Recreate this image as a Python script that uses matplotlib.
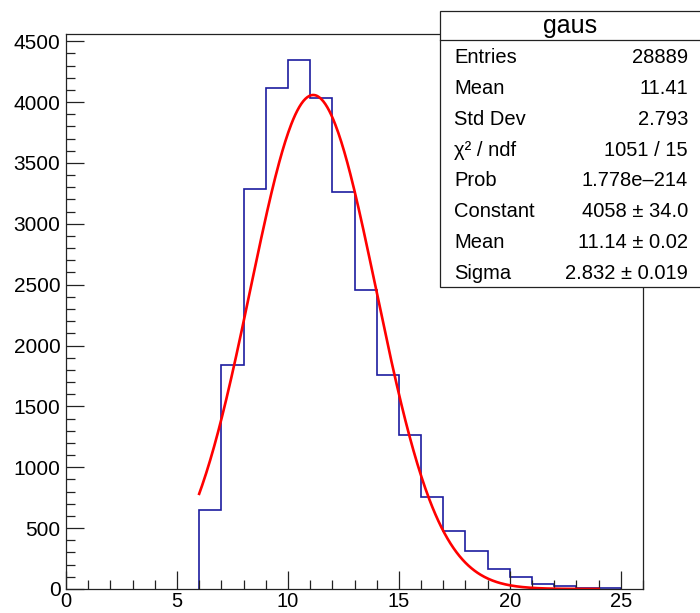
import numpy as np
import matplotlib
matplotlib.use('Agg')
import matplotlib.pyplot as plt
from matplotlib.patches import Rectangle
from matplotlib.lines import Line2D
from matplotlib.ticker import MultipleLocator

plt.rcParams['font.family'] = ['Liberation Sans', 'DejaVu Sans']

# histogram contents (unit bins from 6 to 25)
bin_edges = np.arange(6, 26, 1)
counts = [645, 1840, 3287, 4112, 4342, 4035, 3259, 2456, 1757, 1269,
          754, 480, 310, 162, 101, 39, 25, 8, 12]

# gaus fit parameters and range
fit_const = 4058.0
fit_mean = 11.14
fit_sigma = 2.832
fit_range = (6, 24)

# stats box
box_title = 'gaus'
stat_labels = ['Entries', 'Mean', 'Std Dev', 'χ² / ndf', 'Prob',
               'Constant', 'Mean', 'Sigma']
stat_values = ['28889', '11.41', '2.793', '1051 / 15', '1.778e\u2013214',
               '4058 ± 34.0', '11.14 ± 0.02', '2.832 ± 0.019']

W, H = 700, 613
fig = plt.figure(figsize=(W / 100, H / 100), dpi=100)

def fx(x):
    return x / W

def fy(y):
    return 1 - y / H

ax = fig.add_axes([fx(66), fy(589), fx(643) - fx(66), fy(34) - fy(589)])

ax.stairs(counts, bin_edges, baseline=0, fill=False, color='#1c1ca0', lw=1.2)

xf = np.linspace(fit_range[0], fit_range[1], 400)
yf = fit_const * np.exp(-0.5 * ((xf - fit_mean) / fit_sigma) ** 2)
ax.plot(xf, yf, color='#ff0000', lw=1.9)

ax.set_xlim(0, 26)
ax.set_ylim(0, 1.05 * max(counts))

ax.xaxis.set_major_locator(MultipleLocator(5))
ax.xaxis.set_minor_locator(MultipleLocator(1))
ax.yaxis.set_major_locator(MultipleLocator(500))
ax.yaxis.set_minor_locator(MultipleLocator(100))
ax.tick_params(which='both', direction='in', top=False, right=False,
               labelsize=15, width=0.9, color='#222222')
ax.tick_params(which='major', length=13)
ax.tick_params(which='minor', length=6.5)
ax.tick_params(axis='y', pad=4)
ax.tick_params(axis='x', pad=2.5, labelsize=14.5)
for s in ax.spines.values():
    s.set_linewidth(0.9)
    s.set_color('#222222')

# stats box, partly off the right edge like the ROOT pad
x0, y0, x1, y1 = 440, 11, 706, 287
fig.add_artist(Rectangle((fx(x0), fy(y1)), fx(x1) - fx(x0), fy(y0) - fy(y1),
                         transform=fig.transFigure, facecolor='white',
                         edgecolor='#222222', lw=0.9, zorder=5))
head = 40
fig.add_artist(Line2D([fx(x0), fx(x1)], [fy(head), fy(head)],
                      transform=fig.transFigure, color='#222222', lw=0.9, zorder=6))
fig.text(fx(570), fy((y0 + head) / 2 + 1), box_title, ha='center', va='center',
         fontsize=18, zorder=7)
row_h = (y1 - head) / len(stat_labels)
for i, (lab, val) in enumerate(zip(stat_labels, stat_values)):
    yc = head + row_h * (i + 0.5) + 2
    fig.text(fx(454), fy(yc), lab, ha='left', va='center', fontsize=14.5, zorder=7)
    fig.text(fx(688), fy(yc), val, ha='right', va='center', fontsize=14.5, zorder=7)

fig.savefig('out.png', dpi=100)
